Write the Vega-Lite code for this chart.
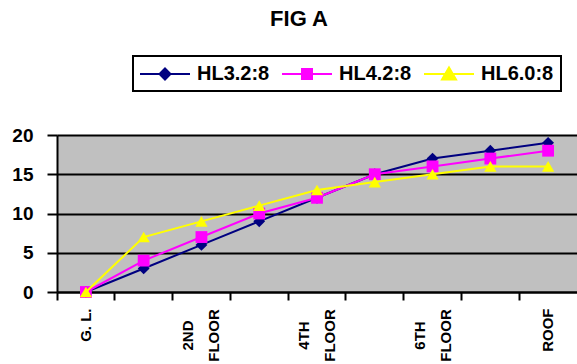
{
  "$schema": "https://vega.github.io/schema/vega-lite/v6.json",
  "width": 520,
  "height": 157,
  "autosize": {"type": "none"},
  "padding": {"left": 57, "top": 135, "right": 0, "bottom": 72},
  "background": "white",
  "title": {
    "text": "FIG A",
    "font": "Liberation Sans",
    "fontSize": 22,
    "fontWeight": "bold",
    "color": "black",
    "anchor": "middle",
    "frame": "group",
    "dx": -18,
    "offset": 24
  },
  "config": {
    "view": {"fill": "#C0C0C0", "stroke": null},
    "axis": {"domainColor": "black", "tickColor": "black", "labelColor": "black", "gridColor": "black"},
    "legend": {
      "orient": "none", "legendX": 76, "legendY": -79, "direction": "horizontal",
      "strokeColor": "black", "fillColor": "white", "padding": 7, "strokeWidth": 2,
      "labelFont": "Liberation Sans", "labelFontSize": 20, "labelFontWeight": "bold", "labelColor": "black",
      "symbolSize": 400, "symbolStrokeWidth": 2, "labelOffset": 35, "columnPadding": 8
    }
  },
  "data": {
    "values": [
      {"floor": "G. L.", "series": "HL3.2:8", "value": 0},
      {"floor": "1ST FLOOR", "series": "HL3.2:8", "value": 3},
      {"floor": "2ND FLOOR", "series": "HL3.2:8", "value": 6},
      {"floor": "3RD FLOOR", "series": "HL3.2:8", "value": 9},
      {"floor": "4TH FLOOR", "series": "HL3.2:8", "value": 12},
      {"floor": "5TH FLOOR", "series": "HL3.2:8", "value": 15},
      {"floor": "6TH FLOOR", "series": "HL3.2:8", "value": 17},
      {"floor": "7TH FLOOR", "series": "HL3.2:8", "value": 18},
      {"floor": "ROOF", "series": "HL3.2:8", "value": 19},
      {"floor": "G. L.", "series": "HL4.2:8", "value": 0},
      {"floor": "1ST FLOOR", "series": "HL4.2:8", "value": 4},
      {"floor": "2ND FLOOR", "series": "HL4.2:8", "value": 7},
      {"floor": "3RD FLOOR", "series": "HL4.2:8", "value": 10},
      {"floor": "4TH FLOOR", "series": "HL4.2:8", "value": 12},
      {"floor": "5TH FLOOR", "series": "HL4.2:8", "value": 15},
      {"floor": "6TH FLOOR", "series": "HL4.2:8", "value": 16},
      {"floor": "7TH FLOOR", "series": "HL4.2:8", "value": 17},
      {"floor": "ROOF", "series": "HL4.2:8", "value": 18},
      {"floor": "G. L.", "series": "HL6.0:8", "value": 0},
      {"floor": "1ST FLOOR", "series": "HL6.0:8", "value": 7},
      {"floor": "2ND FLOOR", "series": "HL6.0:8", "value": 9},
      {"floor": "3RD FLOOR", "series": "HL6.0:8", "value": 11},
      {"floor": "4TH FLOOR", "series": "HL6.0:8", "value": 13},
      {"floor": "5TH FLOOR", "series": "HL6.0:8", "value": 14},
      {"floor": "6TH FLOOR", "series": "HL6.0:8", "value": 15},
      {"floor": "7TH FLOOR", "series": "HL6.0:8", "value": 16},
      {"floor": "ROOF", "series": "HL6.0:8", "value": 16}
    ]
  },
  "encoding": {
    "x": {
      "field": "floor", "type": "nominal", "bandPosition": 0.5,
      "sort": ["G. L.", "1ST FLOOR", "2ND FLOOR", "3RD FLOOR", "4TH FLOOR", "5TH FLOOR", "6TH FLOOR", "7TH FLOOR", "ROOF"],
      "scale": {"type": "band", "paddingInner": 0, "paddingOuter": 0},
      "axis": null
    },
    "y": {
      "field": "value", "type": "quantitative",
      "scale": {"domain": [0, 20], "nice": false},
      "axis": {"values": [0, 5, 10, 15, 20], "title": null, "grid": true, "gridWidth": 2, "domainWidth": 2, "tickSize": 10, "tickWidth": 2, "labelPadding": 14, "labelFont": "Liberation Sans", "labelFontSize": 19, "labelFontWeight": "bold"}
    }
  },
  "layer": [
    {
      "transform": [{"filter": "datum.series === 'HL3.2:8'"}],
      "mark": {"type": "line", "strokeWidth": 2, "color": "#000080", "point": {"shape": "diamond", "filled": true, "size": 140, "color": "#000080", "opacity": 1}},
      "encoding": {
        "x": {
          "field": "floor", "type": "nominal", "bandPosition": 0.5,
          "sort": ["G. L.", "1ST FLOOR", "2ND FLOOR", "3RD FLOOR", "4TH FLOOR", "5TH FLOOR", "6TH FLOOR", "7TH FLOOR", "ROOF"],
          "axis": {"orient": "bottom", "bandPosition": 0, "labels": false, "title": null, "ticks": true, "tickSize": 8, "tickWidth": 2, "domain": true, "domainWidth": 2, "grid": false}
        }
      }
    },
    {
      "transform": [{"filter": "datum.series === 'HL4.2:8'"}],
      "mark": {"type": "line", "strokeWidth": 2, "color": "#FF00FF", "point": {"shape": "square", "filled": true, "size": 140, "color": "#FF00FF", "opacity": 1}},
      "encoding": {
        "x": {
          "field": "floor", "type": "nominal", "bandPosition": 0.5,
          "sort": ["G. L.", "1ST FLOOR", "2ND FLOOR", "3RD FLOOR", "4TH FLOOR", "5TH FLOOR", "6TH FLOOR", "7TH FLOOR", "ROOF"],
          "axis": {
            "orient": "bottom", "title": null, "ticks": false, "domain": false, "grid": false,
            "labelAngle": -90, "labelFont": "Liberation Sans", "labelFontSize": 15, "labelFontWeight": "bold",
            "labelLineHeight": 26, "labelOverlap": false,
            "labelAlign": {"condition": {"test": "indexof(datum.value, 'FLOOR') >= 0", "value": "center"}, "value": "right"},
            "labelPadding": {"condition": {"test": "indexof(datum.value, 'FLOOR') >= 0", "value": 43}, "value": 16},
            "labelOffset": {"condition": {"test": "indexof(datum.value, 'FLOOR') >= 0", "value": -13}, "value": 0},
            "labelExpr": "test(/1ST|3RD|5TH|7TH/, datum.value) ? '' : (indexof(datum.value, 'FLOOR') >= 0 ? split(datum.value, ' ') : datum.value)"
          }
        }
      }
    },
    {
      "transform": [{"filter": "datum.series === 'HL6.0:8'"}],
      "mark": {"type": "line", "strokeWidth": 2, "color": "#FFFF00", "point": {"shape": "triangle-up", "filled": true, "size": 150, "color": "#FFFF00", "opacity": 1}}
    },
    {
      "transform": [{"filter": "false"}],
      "mark": {"type": "point", "filled": true, "opacity": 1, "strokeWidth": 2},
      "encoding": {
        "fill": {
          "field": "series", "type": "nominal", "title": null,
          "scale": {"domain": ["HL3.2:8", "HL4.2:8", "HL6.0:8"], "range": ["#000080", "#FF00FF", "#FFFF00"]}
        },
        "stroke": {
          "field": "series", "type": "nominal", "title": null,
          "scale": {"domain": ["HL3.2:8", "HL4.2:8", "HL6.0:8"], "range": ["#000080", "#FF00FF", "#FFFF00"]}
        },
        "shape": {
          "field": "series", "type": "nominal", "title": null,
          "scale": {"domain": ["HL3.2:8", "HL4.2:8", "HL6.0:8"], "range": ["M-1.1,0L3.9,0M1.4,-0.55L1.95,0L1.4,0.55L0.85,0Z", "M-1.1,0L3.9,0M0.9,-0.5L1.9,-0.5L1.9,0.5L0.9,0.5Z", "M-1.1,0L3.9,0M1.4,-0.65L2.1,0.55L0.7,0.55Z"]}
        }
      }
    }
  ],
  "resolve": {"axis": {"x": "independent"}}
}
